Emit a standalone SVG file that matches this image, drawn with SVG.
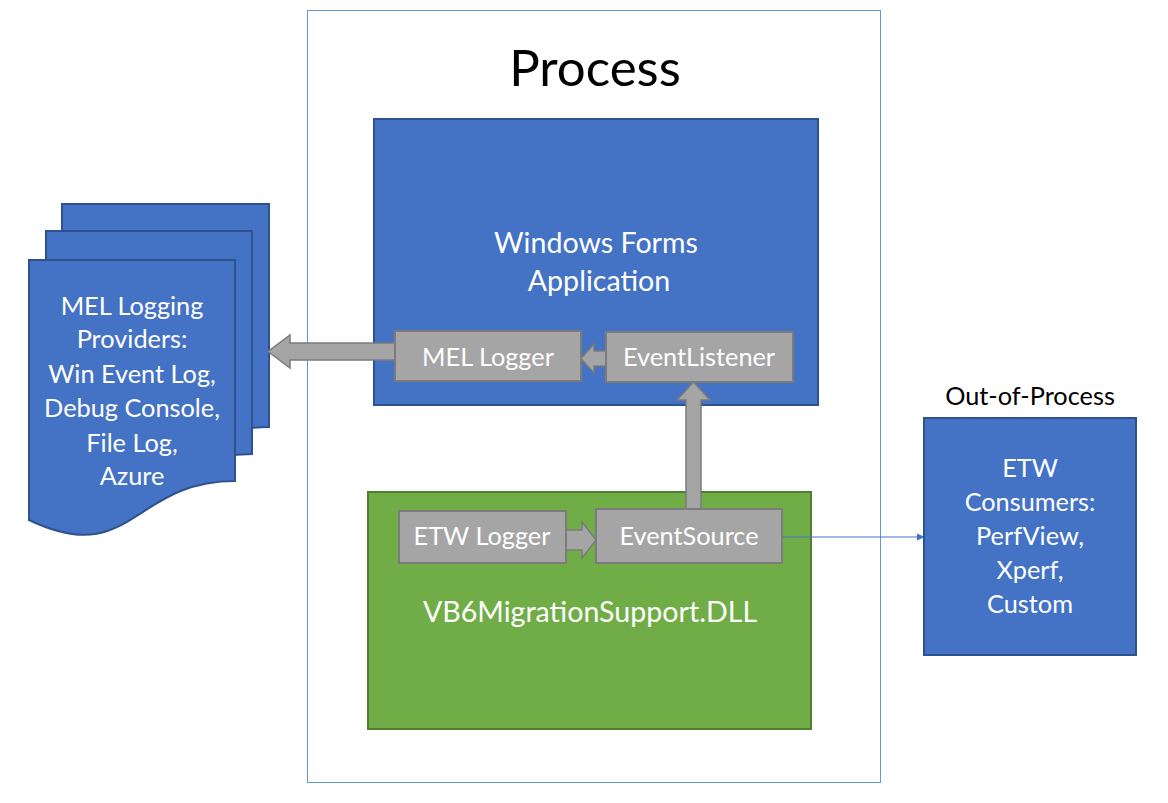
<svg xmlns="http://www.w3.org/2000/svg" width="1168" height="803" viewBox="0 0 1168 803">
<style>
text{font-family:Lato,"Open Sans","Liberation Sans",sans-serif;text-anchor:middle}
.w{fill:#fff;font-size:25.3px}
.big{font-size:28.6px}
.k{fill:#000}
.blue{fill:#4472C4;stroke:#2F528F;stroke-width:2}
.green{fill:#70AD47;stroke:#507E32;stroke-width:2}
.gray{fill:#A5A5A5;stroke:#7B7B7B;stroke-width:2}
.arr{fill:#A5A5A5;stroke:#7B7B7B;stroke-width:1.5}
</style>
<defs>
<marker id="ah" markerWidth="8" markerHeight="8" refX="7" refY="4" orient="auto" markerUnits="userSpaceOnUse">
<path d="M0,0.5 L8,4 L0,7.5 Z" fill="#4472C4"/>
</marker>
</defs>
<rect id="process" x="307.5" y="10.5" width="573" height="772" fill="#fff" stroke="#5B9BD5" stroke-width="1"/>
<text class="k" x="595" y="86" font-size="51">Process</text>

<g id="docs">
<path class="blue" d="M62,204 H269 V427 C165.5,427 165.5,513 62,482 Z"/>
<path class="blue" d="M46,231 H252 V454 C149,454 149,540 46,509 Z"/>
<path class="blue" d="M29,260 H235 V481 C132,481 132,569 29,520 Z"/>
<text class="w" x="132" y="315">MEL Logging</text>
<text class="w" x="132" y="348">Providers:</text>
<text class="w" x="132" y="383">Win Event Log,</text>
<text class="w" x="132" y="417">Debug Console,</text>
<text class="w" x="132" y="452">File Log,</text>
<text class="w" x="132" y="485">Azure</text>
</g>

<g id="winforms">
<rect class="blue" x="374" y="119" width="444" height="286"/>
<text class="w big" x="596" y="253">Windows Forms</text>
<text class="w big" x="599" y="291">Application</text>
</g>

<g id="vb6dll">
<rect class="green" x="368" y="492" width="443" height="237"/>
<text class="w big" x="590" y="622">VB6MigrationSupport.DLL</text>
</g>

<g id="connectors">
<path class="arr" d="M395,343 V360 H290 V368 L268,351.5 L290,335 V343 Z"/>
<path class="arr" d="M606,351 V366 H594 V373 L581,358.5 L594,344 V351 Z"/>
<path class="arr" d="M686,509 V400 H677 L693.5,382 L710,400 H701 V509 Z"/>
<path class="arr" d="M566,530 H582 V522 L596,540 L582,558 V550 H566 Z"/>
<line x1="782" y1="537" x2="924" y2="537" stroke="#4472C4" stroke-width="1" marker-end="url(#ah)"/>
</g>

<g id="mellogger">
<rect class="gray" x="395" y="331" width="186" height="50"/>
<text class="w" x="488" y="366">MEL Logger</text>
</g>
<g id="eventlistener">
<rect class="gray" x="606" y="332" width="187" height="50"/>
<text class="w" x="699" y="366">EventListener</text>
</g>
<g id="etwlogger">
<rect class="gray" x="399" y="511" width="167" height="52"/>
<text class="w" x="482" y="545">ETW Logger</text>
</g>
<g id="eventsource">
<rect class="gray" x="596" y="509" width="186" height="54"/>
<text class="w" x="689" y="545">EventSource</text>
</g>

<g id="etwconsumers">
<text class="k" x="1030" y="405" font-size="25.3">Out-of-Process</text>
<rect class="blue" x="924" y="418" width="212" height="237"/>
<text class="w" x="1030" y="477">ETW</text>
<text class="w" x="1030" y="511">Consumers:</text>
<text class="w" x="1030" y="545">PerfView,</text>
<text class="w" x="1030" y="579">Xperf,</text>
<text class="w" x="1030" y="613">Custom</text>
</g>
</svg>
